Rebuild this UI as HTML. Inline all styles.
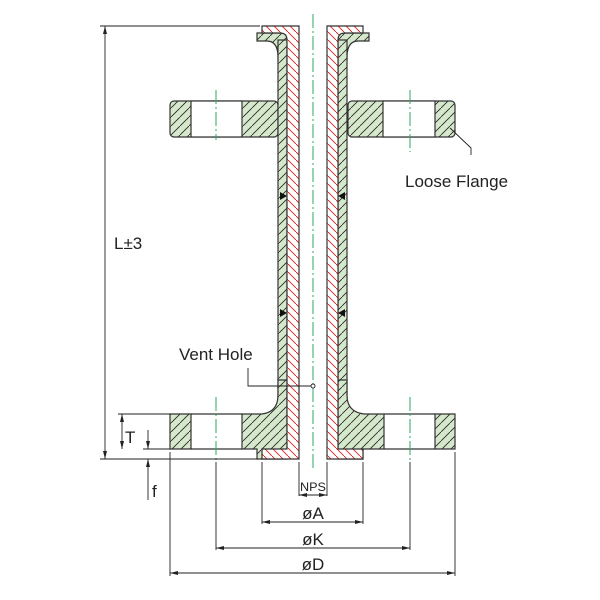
<!DOCTYPE html>
<html><head><meta charset="utf-8"><style>html,body{margin:0;padding:0;background:#fff}svg{display:block}</style></head>
<body>
<svg width="600" height="600" viewBox="0 0 600 600" xmlns="http://www.w3.org/2000/svg" font-family="Liberation Sans, sans-serif">
<defs>
<pattern id="g" patternUnits="userSpaceOnUse" width="9" height="9">
<rect width="9" height="9" fill="#d5e8cc"/>
<path d="M-1,10 L10,-1" stroke="#222" stroke-width="0.8"/>
</pattern>
<pattern id="r" patternUnits="userSpaceOnUse" width="8" height="8">
<rect width="8" height="8" fill="#fff"/>
<path d="M-1,-1 L9,9" stroke="#e02020" stroke-width="0.9"/>
</pattern>
</defs>
<g stroke="#333" stroke-width="1.2">
<rect x="170" y="101" width="108" height="36" rx="4" fill="url(#g)"/>
<rect x="191" y="101" width="51" height="36" fill="#fff"/>
<rect x="348" y="101" width="107" height="36" rx="4" fill="url(#g)"/>
<rect x="383" y="101" width="52" height="36" fill="#fff"/>
<path d="M257,33 H287 V60 H278 V55 Q277,41 267,41 H257 Z" fill="url(#g)"/>
<path d="M369,33 H338 V60 H347 V55 Q348,41 358,41 H369 Z" fill="url(#g)"/>
<rect x="278" y="40" width="9" height="380" fill="url(#g)"/>
<rect x="338" y="40" width="9" height="380" fill="url(#g)"/>
<path d="M170,414 H191 V449 H170 Z" fill="url(#g)"/>
<path d="M435,414 H455 V449 H435 Z" fill="url(#g)"/>
<path d="M242,414 H262 Q278,412 278,395 V380 H287 V459 H257 V449 H242 Z" fill="url(#g)"/>
<path d="M384,414 H364 Q347,412 347,395 V380 H338 V459 H363 V449 H384 Z" fill="url(#g)"/>
<line x1="191" y1="414" x2="242" y2="414"/><line x1="191" y1="449" x2="242" y2="449"/>
<line x1="384" y1="414" x2="435" y2="414"/><line x1="384" y1="449" x2="435" y2="449"/>
<path d="M262,26 H299 V459 H262 V449 H287 V40 Q287,33 280,33 H262 Z" fill="url(#r)"/>
<path d="M363,26 H327 V459 H363 V449 H338 V40 Q338,33 345,33 H363 Z" fill="url(#r)"/>
</g>
<g fill="#111">
<path d="M280,192 L287,196 L280,200 Z"/><path d="M280,309 L287,313 L280,317 Z"/>
<path d="M345,192 L338,196 L345,200 Z"/><path d="M345,309 L338,313 L345,317 Z"/>
</g>
<g stroke="#2aa860" stroke-width="1" stroke-dasharray="14,3,2,3" fill="none">
<line x1="313" y1="14" x2="313" y2="470"/>
<line x1="216" y1="90" x2="216" y2="140"/><line x1="410" y1="90" x2="410" y2="152"/>
<line x1="216" y1="397" x2="216" y2="460"/><line x1="410" y1="397" x2="410" y2="460"/>
</g>
<g stroke="#222" stroke-width="0.9" fill="none">
<line x1="100" y1="26" x2="260" y2="26"/>
<line x1="100" y1="459" x2="258" y2="459"/>
<line x1="105" y1="26" x2="105" y2="459"/>
<line x1="118" y1="414" x2="170" y2="414"/>
<line x1="143" y1="449" x2="170" y2="449"/>
<line x1="122" y1="414" x2="122" y2="449"/>
<line x1="148" y1="430" x2="148" y2="449"/>
<line x1="148" y1="459" x2="148" y2="500"/>
<line x1="299" y1="462" x2="299" y2="496"/><line x1="327" y1="462" x2="327" y2="496"/>
<line x1="299" y1="495" x2="327" y2="495"/>
<line x1="262" y1="462" x2="262" y2="524"/><line x1="363" y1="462" x2="363" y2="524"/>
<line x1="262" y1="522" x2="363" y2="522"/>
<line x1="216" y1="462" x2="216" y2="550"/><line x1="410" y1="462" x2="410" y2="550"/>
<line x1="216" y1="548" x2="410" y2="548"/>
<line x1="170" y1="452" x2="170" y2="576"/><line x1="455" y1="452" x2="455" y2="576"/>
<line x1="170" y1="573" x2="455" y2="573"/>
<path d="M313,386 H248 V368"/>
<path d="M450,128 L471,148 V155"/>
</g>
<circle cx="313" cy="386" r="2" fill="#fff" stroke="#222" stroke-width="0.9"/>
<g fill="#222">
<path d="M105,26 l-2,8 h4z"/><path d="M105,459 l-2,-8 h4z"/>
<path d="M122,414 l-2,8 h4z"/><path d="M122,449 l-2,-8 h4z"/>
<path d="M148,449 l-2,-8 h4z"/><path d="M148,459 l-2,8 h4z"/>
<path d="M299,495 l8,-2 v4z"/><path d="M327,495 l-8,-2 v4z"/>
<path d="M262,522 l8,-2 v4z"/><path d="M363,522 l-8,-2 v4z"/>
<path d="M216,548 l8,-2 v4z"/><path d="M410,548 l-8,-2 v4z"/>
<path d="M170,573 l8,-2 v4z"/><path d="M455,573 l-8,-2 v4z"/>
</g>
<g fill="#222" font-size="17">
<text x="114" y="249">L±3</text>
<text x="125" y="443">T</text>
<text x="152" y="497">f</text>
<text x="313" y="491" text-anchor="middle" font-size="12" textLength="26" lengthAdjust="spacingAndGlyphs">NPS</text>
<text x="313" y="519" text-anchor="middle">øA</text>
<text x="313" y="545" text-anchor="middle">øK</text>
<text x="313" y="570" text-anchor="middle">øD</text>
<text x="179" y="360">Vent Hole</text>
<text x="405" y="187">Loose Flange</text>
</g>
</svg>
</body></html>
